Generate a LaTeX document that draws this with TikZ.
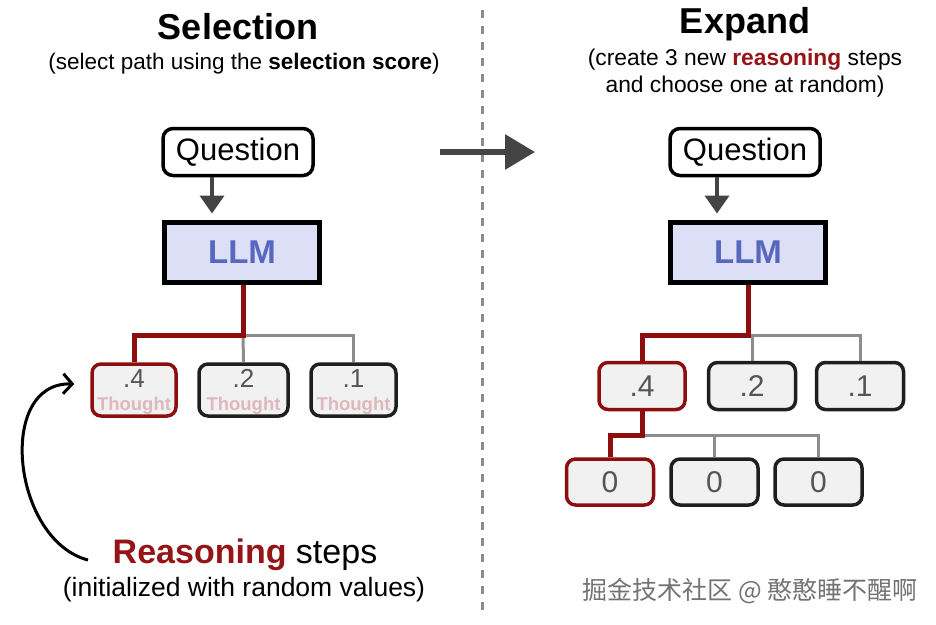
\documentclass[tikz,border=0pt]{standalone}
\usepackage{fontspec}
\setmainfont{Liberation Sans}
\newfontfamily\cjkfont{Noto Sans CJK SC}
\usetikzlibrary{arrows.meta}
\definecolor{dred}{RGB}{140,14,14}
\definecolor{tred}{RGB}{150,20,22}
\definecolor{llmfill}{RGB}{220,223,245}
\definecolor{llmtext}{RGB}{88,104,190}
\definecolor{boxfill}{RGB}{241,241,241}
\definecolor{pinktxt}{RGB}{222,184,190}
\definecolor{numgray}{RGB}{85,85,85}
\definecolor{linegray}{RGB}{140,140,140}
\definecolor{arrgray}{RGB}{68,68,68}
\newcommand{\fs}[1]{\fontsize{#1}{#1}\selectfont}
\begin{document}
\begin{tikzpicture}[x=1pt,y=-1pt,
  qbox/.style={draw=black,line width=3.5pt,rounded corners=10pt,fill=white,
    minimum width=150pt,minimum height=47pt,inner sep=0pt,font=\fs{31}},
  llmbox/.style={draw=black,line width=5pt,fill=llmfill,minimum width=155pt,
    minimum height=60pt,inner sep=0pt,text=llmtext,font=\bfseries\fs{33}},
  tbox/.style={draw=black!88,line width=3.5pt,rounded corners=9pt,fill=boxfill,
    minimum height=52pt,inner sep=0pt},
  numtxt/.style={text=numgray,font=\fs{26},inner sep=0pt,anchor=base},
  thtxt/.style={text=pinktxt,font=\bfseries\fs{18.5},inner sep=0pt,anchor=base},
  sbox/.style={draw=black!88,line width=3.5pt,rounded corners=9pt,fill=boxfill,
    minimum width=87pt,minimum height=46pt,inner sep=0pt,text=numgray,font=\fs{30}},
  sel/.style={draw=dred},
  redline/.style={draw=dred,line width=5pt},
  grayline/.style={draw=linegray,line width=3pt},
  qarrow/.style={draw=arrgray,fill=arrgray,line width=4pt,-{Triangle[length=18pt,width=24pt]}},
]
\useasboundingbox (0,0) rectangle (936,624);
% divider
\draw[linegray,line width=3pt,dash pattern=on 8pt off 8pt] (482,10) -- (482,612);
% main arrow
\coordinate (ma) at (440,152);
\coordinate (mb) at (535,152);
\draw[arrgray,line width=6pt,-{Triangle[length=30pt,width=34pt]}] (ma) -- (mb);

% ---------- Left: Selection ----------
\node[font=\bfseries\fs{36}] (titL) at (238,27) {Selection};
\node[font=\fs{22.5}] (subL) at (244,64) {(select path using the \textbf{selection score})};
\node[qbox] (qL) at (238,152) {Question};
\node[llmbox] (lL) at (242,252) {LLM};
\coordinate (qaL) at (212,0);
\draw[qarrow] (qL.south -| qaL) -- ([yshift=6pt]lL.north -| qaL);
\node[tbox,sel,minimum width=84pt] (a4) at (134,390) {};
\node[tbox,minimum width=89pt] (a2) at (243.5,390) {};
\node[tbox,minimum width=85pt] (a1) at (353.5,390) {};
\foreach \n/\v in {a4/.4,a2/.2,a1/.1}{
  \node[numtxt] (\n n) at ([yshift=3pt]\n.center) {\v};
  \node[thtxt] (\n t) at ([yshift=-20pt]\n.center) {Thought};
}
\coordinate (jL) at (243,335);
\draw[grayline] (jL) -| (a1.north);
\draw[grayline] (jL) -- (a2.north);
\draw[redline] (lL.south -| jL) -- (jL) -| (a4.north);

\node[font=\fs{34}] (rs) at (245,555) {\textcolor{tred}{\bfseries Reasoning} steps};
\node[font=\fs{26.5}] (rv) at (244,590) {(initialized with random values)};
\coordinate (cs) at (88,560);
\draw[black,line width=3pt,-{Straight Barb[length=9pt,width=20pt]}] (cs) .. controls (12,540) and (-4,382) .. ([xshift=-16pt,yshift=6pt]a4.west);

% ---------- Right: Expand ----------
\node[font=\bfseries\fs{36}] (titR) at (745,24) {Expand};
\node[font=\fs{22.8},align=center] (subR) at (745,73) {(create 3 new \textcolor{tred}{\bfseries reasoning} steps\\[4pt]and choose one at random)};
\node[qbox] (qR) at (745,152) {Question};
\node[llmbox] (lR) at (748,252) {LLM};
\coordinate (qaR) at (717,0);
\draw[qarrow] (qR.south -| qaR) -- ([yshift=6pt]lR.north -| qaR);
\node[sbox,sel,minimum height=47pt,minimum width=86pt] (b4) at (642,386) {.4};
\node[sbox,minimum height=47pt] (b2) at (752,386) {.2};
\node[sbox,minimum height=47pt] (b1) at (860,386) {.1};
\coordinate (jR) at (748,335);
\draw[grayline] (jR) -| (b1.north);
\draw[grayline] (jR) -| (b2.north);
\draw[redline] (lR.south) -- (jR) -| (b4.north);
\node[sbox,sel] (c1) at (610,482) {0};
\node[sbox] (c2) at (714.5,482) {0};
\node[sbox] (c3) at (818.5,482) {0};
\coordinate (kR) at (642,435);
\draw[grayline] (kR) -| (c3.north);
\draw[grayline] (kR) -| (c2.north);
\draw[redline] (b4.south) -- (kR) -| (c1.north);

% watermark
\node[text=black!55,font=\cjkfont\fs{25}] (wm) at (750,591) {掘金技术社区 @ 憨憨睡不醒啊};
\end{tikzpicture}
\end{document}
